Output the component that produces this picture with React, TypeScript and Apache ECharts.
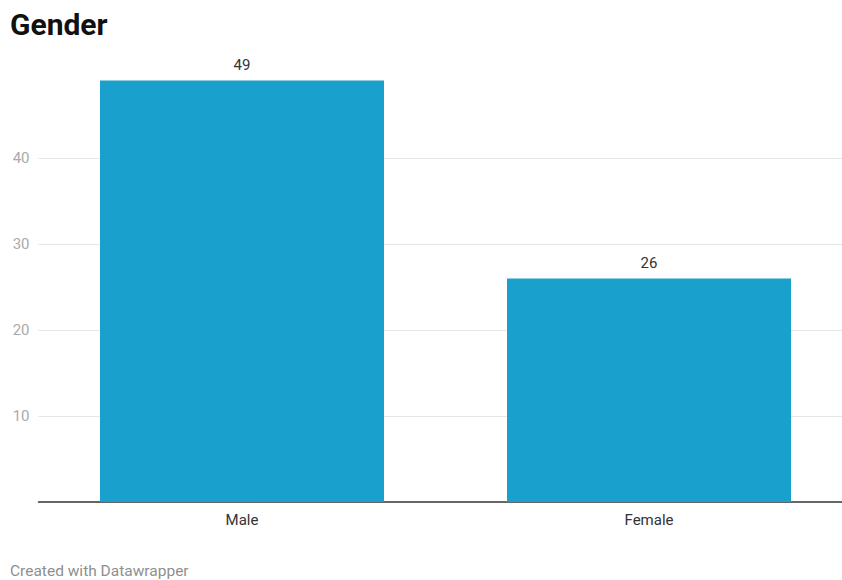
import React, { useEffect, useRef } from "react";
import * as echarts from "echarts";

const categories = ["Male", "Female"];
const values = [49, 26];
const yTicks = [0, 10, 20, 30, 40, 50];

export default function App() {
  const ref = useRef<HTMLDivElement>(null);
  useEffect(() => {
    if (!ref.current) return;
    const chart = echarts.init(ref.current, null, { renderer: "svg" });
    chart.setOption({
      animation: false,
      textStyle: { fontFamily: "Roboto" },
      title: {
        text: "Gender",
        left: 10,
        top: 9,
        padding: 0,
        textStyle: { fontFamily: "Roboto", fontWeight: "bold", fontSize: 30, color: "#111" },
      },
      graphic: [
        {
          type: "text",
          left: 10,
          top: 563,
          style: { text: "Created with Datawrapper", fontFamily: "Roboto", fontSize: 15.5, fill: "#8f8f8f" },
        },
      ],
      grid: { left: 38.5, top: 72, width: 814, height: 430, containLabel: false },
      xAxis: {
        type: "category",
        data: categories,
        axisLine: { lineStyle: { color: "#333", width: 1.5 } },
        axisTick: { show: false },
        axisLabel: { color: "#333", fontSize: 15, margin: 10, fontFamily: "Roboto" },
      },
      yAxis: {
        type: "value",
        min: 0,
        max: 50,
        interval: 10,
        axisLine: { show: false },
        axisTick: { show: false },
        axisLabel: {
          color: "#aaa",
          fontSize: 15,
          margin: 9,
          fontFamily: "Roboto",
          formatter: (v: number) => (v === yTicks[0] || v === yTicks[yTicks.length - 1] ? "" : String(v)),
        },
        splitLine: {
          lineStyle: {
            color: ["rgba(0,0,0,0)", "#e6e6e6", "#e6e6e6", "#e6e6e6", "#e6e6e6", "rgba(0,0,0,0)"],
            width: 1,
          },
        },
      },
      series: [
        {
          type: "bar",
          data: values,
          barWidth: 284,
          itemStyle: { color: "#1aa0cc" },
          label: {
            show: true,
            position: "top",
            distance: 8,
            color: "#333",
            fontSize: 15,
            fontFamily: "Roboto",
          },
        },
      ],
    });
    return () => chart.dispose();
  }, []);
  return (
    <div
      style={{ position: "absolute", left: 0, top: 0, width: 842, height: 580, overflow: "hidden", background: "#fff" }}
    >
      <div ref={ref} style={{ width: 880, height: 580 }} />
    </div>
  );
}
